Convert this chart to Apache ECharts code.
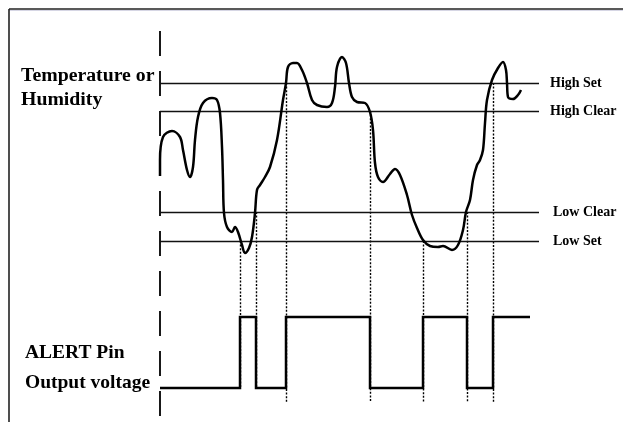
<!DOCTYPE html>
<html>
<head>
<meta charset="utf-8">
<script src="https://cdn.jsdelivr.net/npm/echarts@6/dist/echarts.min.js"></script>
<style>html,body{margin:0;padding:0;background:#fff}#c{width:623px;height:422px}</style>
</head>
<body>
<div id="c"></div>
<script>
// Time axis (arbitrary units) and level axis (arbitrary units)
var curveTime  = [0,0,3,12,20,23,27,30,33,35,38,43,52,57,60,62,63,64,67,72,75,78,82,85,89,92,95,97,100,105,110,117,123,126,128,133,137,142,147,152,157,167,172,175,177,182,186,189,192,197,205,210,213,215,218,223,230,235,240,247,252,257,263,270,278,283,292,298,303,306,310,313,317,320,323,325,327,332,338,343,346,347,348,353,358,361];
var curveLevel = [241,257,280,286,280,267,247,240,250,277,300,314,319,317,304,270,237,204,190,185,190,185,172,164,169,180,204,227,232,240,250,277,317,334,350,354,354,347,334,317,312,310,314,330,350,360,354,334,320,315,314,305,287,254,240,235,243,248,242,222,202,189,177,171,170,171,167,172,187,205,217,237,252,257,267,294,317,337,349,355,347,334,320,318,322,327];

var thresholdNames  = ['High Set','High Clear','Low Clear','Low Set'];
var thresholdLevels = [334, 306, 205, 176];

var alertTimes  = [0, 80, 96, 126, 210, 263, 307, 333, 370];
var alertStates = [0, 1, 0, 1, 0, 1, 0, 1, 1];
var alertLow = 29, alertHigh = 100;

// crossing markers: time, level where the curve crosses, level where the guide ends
var crossTimes  = [80, 96, 126, 210, 263, 307, 333];
var crossFrom   = [176, 205, 334, 306, 176, 205, 334];
var crossTo     = [29, 29, 15, 15, 15, 15, 15];

var axisTop = 386, axisBottom = -5, thresholdEnd = 379;

var curveData = curveTime.map(function(t,i){return [t, curveLevel[i]];});
var alertData = [];
for (var i = 0; i < alertTimes.length; i++) {
  var lv = alertStates[i] ? alertHigh : alertLow;
  if (i > 0) {
    var prev = alertStates[i-1] ? alertHigh : alertLow;
    alertData.push([alertTimes[i], prev]);
  }
  alertData.push([alertTimes[i], lv]);
}
var labelDist = [11, 11, 14, 14];
var font = "'Liberation Serif', 'Times New Roman', serif";
var thresholdMarks = thresholdNames.map(function(n,i){
  return [
    {coord:[0,thresholdLevels[i]], name:n},
    {coord:[thresholdEnd,thresholdLevels[i]],
     label:{show:true, position:'end', formatter:n, distance:labelDist[i], color:'#000',
            fontFamily:font, fontWeight:'bold', fontSize:14}}
  ];
});
var crossData = crossTimes.map(function(t,i){
  return {coords:[[t,crossFrom[i]],[t,crossTo[i]]]};
});

var chart = echarts.init(document.getElementById('c'), null, {renderer:'canvas'});
chart.setOption({
  backgroundColor:'#fff',
  animation:false,
  grid:{left:160, top:31, width:380, height:391},
  xAxis:{type:'value', min:0, max:380, show:false},
  yAxis:{type:'value', min:axisBottom, max:axisTop, show:false},
  graphic:[
    {type:'line', shape:{x1:9,y1:9,x2:623,y2:9}, style:{stroke:'#222', lineWidth:1.6}},
    {type:'line', shape:{x1:9,y1:10.5,x2:623,y2:10.5}, style:{stroke:'#ccd', lineWidth:0.8}},
    {type:'line', shape:{x1:9,y1:9,x2:9,y2:422}, style:{stroke:'#222', lineWidth:1.6}},
    {type:'text', x:21, y:76, style:{text:'Temperature or', font:'bold 19.8px '+font, fill:'#000', verticalAlign:'middle'}},
    {type:'text', x:21, y:100, style:{text:'Humidity', font:'bold 19.8px '+font, fill:'#000', verticalAlign:'middle'}},
    {type:'text', x:25, y:353, style:{text:'ALERT Pin', font:'bold 19.5px '+font, fill:'#000', verticalAlign:'middle'}},
    {type:'text', x:25, y:383, style:{text:'Output voltage', font:'bold 19.5px '+font, fill:'#000', verticalAlign:'middle'}}
  ],
  series:[
    {type:'line', data:[[0,axisTop],[0,axisBottom]], symbol:'none', silent:true,
     lineStyle:{color:'#000', width:1.8, type:[25,15]}, z:3,
     markLine:{silent:true, symbol:['none','none'], animation:false,
       lineStyle:{color:'#111', width:1.4, type:'solid'},
       label:{show:false},
       emphasis:{disabled:true},
       data:thresholdMarks}},
    {type:'lines', coordinateSystem:'cartesian2d', data:crossData, silent:true,
     lineStyle:{color:'#000', width:1.4, type:[2,1.6], opacity:1}, z:2},
    {type:'line', data:curveData, symbol:'none', smooth:0.35, silent:true,
     lineStyle:{color:'#000', width:2.5}, z:5},
    {type:'line', data:alertData, symbol:'none', silent:true,
     lineStyle:{color:'#000', width:2.5, join:'miter'}, z:5}
  ]
});
</script>
</body>
</html>
